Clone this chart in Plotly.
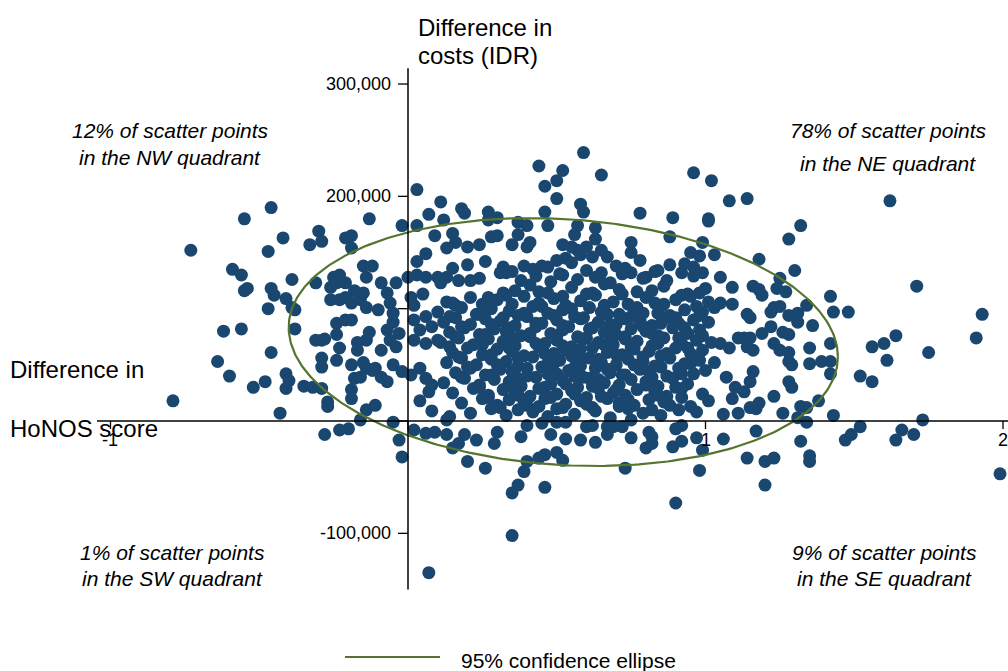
import numpy as np
import plotly.graph_objects as go

# Bootstrapped incremental results: (difference in HoNOS score, difference in costs, thousand IDR)
west_points = [
    (-0.79, 18), (-0.73, 152), (-0.62, 80), (-0.56, 82), (-0.55, 180), (-0.46, 190), (-0.59, 135),
    (-0.56, 130), (-0.54, 118), (-0.55, 116), (-0.47, 151), (-0.42, 163), (-0.46, 118), (-0.45, 112),
    (-0.41, 109), (-0.39, 126), (-0.47, 100), (-0.38, 99), (-0.38, 82), (-0.46, 61), (-0.64, 53),
    (-0.60, 40), (-0.52, 30), (-0.48, 35), (-0.43, 7), (-0.41, 42), (-0.40, 36), (-0.41, 29),
    (-0.35, 31), (-0.32, 30), (-0.29, 29), (-0.27, 17), (-0.27, 13), (-0.29, 56), (-0.29, 48),
    (-0.24, 54), (-0.19, 50), (-0.18, 38), (-0.16, 39), (-0.19, 28), (-0.19, 20), (-0.14, 47),
    (-0.11, 47), (-0.09, 39), (-0.07, 35), (-0.14, 10), (-0.11, 14), (-0.16, 1), (-0.28, -12),
    (-0.23, -8), (-0.20, -7), (-0.05, -1), (-0.03, -17), (-0.02, -32), (-0.05, 50), (-0.02, 44),
    (-0.30, 169), (-0.29, 160), (-0.33, 157), (-0.21, 163), (-0.19, 165), (-0.19, 154), (-0.13, 180),
    (-0.02, 174), (-0.15, 138), (-0.12, 138), (-0.14, 128), (-0.31, 123), (-0.25, 128), (-0.23, 130),
    (-0.24, 123), (-0.21, 123), (-0.26, 119), (-0.18, 116), (-0.15, 114), (-0.16, 108), (-0.14, 101),
    (-0.26, 108), (-0.23, 108), (-0.21, 110), (-0.19, 105), (-0.09, 123), (-0.07, 114), (-0.06, 105),
    (-0.10, 99), (-0.05, 96), (-0.04, 123), (-0.21, 90), (-0.24, 87), (-0.24, 77), (-0.31, 72),
    (-0.29, 72), (-0.17, 70), (-0.14, 72), (-0.23, 65), (-0.07, 81), (-0.05, 88), (-0.03, 78),
    (-0.06, 72), (-0.09, 63), (-0.04, 66), (-0.39, 101), (-0.28, 73), (-0.13, 79), (-0.15, 52),
    (-0.12, 45), (-0.19, 90), (-0.17, 63),
]

east_points = [
    (0.03, 206), (0.07, 184), (0.03, 174), (0.09, 165), (0.11, 195), (0.06, 149), (0.03, 142),
    (0.00, 128), (0.03, 130), (0.06, 128), (0.10, 128), (0.01, 110), (0.05, 113), (0.02, 103),
    (0.02, 90), (0.06, 93), (0.04, 81), (0.08, 84), (0.02, 72), (0.06, 69), (0.10, 72), (0.04, 47),
    (0.06, 38), (0.08, 32), (0.07, 26), (0.01, 41), (0.04, 18), (0.08, 9), (0.02, -8), (0.06, -11),
    (0.09, -10), (0.13, -12), (0.07, -135), (0.12, 179), (0.13, 1), (0.14, 4), (0.19, -12),
    (0.15, -24), (0.17, -20), (0.23, -17), (0.20, -36), (0.26, -42), (0.29, -20), (0.30, -10),
    (0.35, -64), (0.37, -57), (0.35, -102), (0.38, -14), (0.39, -45), (0.40, -36), (0.44, -33),
    (0.46, -30), (0.46, -59), (0.50, -28), (0.52, -35), (0.48, -12), (0.53, -16), (0.58, -17),
    (0.63, -19), (0.73, -42), (0.75, -15), (0.80, -24), (0.82, -20), (0.82, -14), (0.81, -10),
    (0.89, -23), (0.92, -18), (0.98, -44), (0.97, -15), (0.99, -26), (0.90, -7), (0.92, -4),
    (0.90, -73), (0.67, -5), (0.69, -5), (0.67, -12), (0.60, -5), (0.62, -4), (0.72, -5), (0.75, 1),
    (0.40, -4), (0.45, -2), (0.50, -1), (0.53, -1), (1.06, -16),
    (1.17, -9), (1.14, -33), (1.20, -36), (1.23, -33), (1.20, -57), (1.32, -18), (1.35, -31),
    (1.35, -36), (1.47, -17), (1.49, -12), (1.52, -5), (1.64, -17), (1.66, -8), (1.70, -12),
    (1.73, 1), (1.99, -47), (1.06, 6), (1.11, 7), (1.15, 12), (1.17, 11), (1.18, 16), (1.26, 7),
    (1.31, 3), (1.34, -1), (1.32, 13), (1.34, 12), (1.38, 18), (1.43, 5), (1.23, 22), (1.28, 35),
    (1.29, 30), (1.28, 53), (1.35, 51), (1.39, 53), (1.42, 53), (1.42, 42), (1.52, 40), (1.56, 35),
    (1.61, 54), (1.75, 61), (1.16, 44), (1.15, 35), (1.07, 39), (1.10, 30), (1.13, 26), (1.09, 20),
    (1.56, 66), (1.60, 69), (1.64, 76), (1.91, 74), (1.93, 95), (1.71, 120), (1.62, 196), (1.08, 196),
    (1.14, 198), (1.32, 174), (1.28, 162), (1.18, 144), (1.30, 134), (1.25, 127), (1.42, 111),
    (1.43, 97), (1.48, 97), (1.34, 103), (1.36, 85), (1.42, 69), (1.35, 65), (1.09, 119), (1.16, 120),
    (1.18, 117), (1.19, 112), (1.05, 128), (1.05, 105), (1.09, 104), (1.24, 118), (1.27, 115),
    (1.14, 95), (1.15, 92), (1.22, 97), (1.23, 101), (1.25, 102), (1.28, 94), (1.31, 96), (1.31, 88),
    (1.22, 84), (1.19, 78), (1.26, 79), (1.28, 77), (1.11, 74), (1.13, 74), (1.15, 74), (1.14, 66),
    (1.16, 63), (1.05, 69), (1.08, 65), (1.23, 69), (1.25, 63), (1.28, 61), (1.29, 50),
    (0.59, 239), (0.44, 227), (0.52, 223), (0.50, 214), (0.46, 209), (0.65, 219), (0.96, 221),
    (1.02, 214), (0.50, 198), (0.58, 193), (0.59, 186), (0.78, 185), (0.89, 181), (1.01, 180),
    (1.01, 178), (0.18, 189), (0.19, 185), (0.27, 186), (0.27, 179), (0.30, 181), (0.46, 186),
    (0.47, 174), (0.37, 177), (0.40, 174), (0.37, 166), (0.57, 174), (0.56, 166), (0.63, 172),
    (0.63, 162), (0.15, 167), (0.16, 159), (0.13, 154), (0.20, 155), (0.24, 157), (0.28, 164),
    (0.30, 165), (0.35, 157), (0.40, 155), (0.41, 159), (0.75, 159), (0.75, 150), (0.88, 164),
    (0.99, 159), (1.03, 148), (0.95, 150), (0.98, 147), (0.52, 157), (0.55, 155), (0.57, 152),
    (0.15, 136), (0.13, 128), (0.11, 123), (0.32, 137), (0.33, 132), (0.31, 132), (0.39, 138),
    (0.45, 138), (0.50, 143), (0.53, 145), (0.58, 148), (0.62, 146), (0.67, 146), (0.60, 155),
    (0.65, 152), (0.75, 132), (0.88, 139), (0.84, 134), (0.80, 128), (0.92, 132), (0.96, 137),
    (0.99, 132), (0.17, 125), (0.21, 125), (0.24, 127), (0.27, 110), (0.32, 114), (0.15, 105),
]

# Dense central cloud, listed band by band (HoNOS difference, cost difference in thousand IDR)
core_honos = [
    [0.20, 0.26, 0.47, 0.55, 0.70, 0.78, 0.93],
    [0.35, 0.42, 0.51, 0.60, 0.65, 0.73, 0.83],
    [0.38, 0.43, 0.48, 0.52, 0.57, 0.63, 0.68, 0.72, 0.79, 0.87, 0.96],
    [0.36, 0.41, 0.47, 0.55, 0.60, 0.66, 0.71, 0.77, 0.86, 0.94, 1.00],
    [0.33, 0.44, 0.52, 0.62, 0.72, 0.82, 0.92, 0.98],
    [0.13, 0.21, 0.25, 0.30, 0.39, 0.44, 0.49, 0.53, 0.58, 0.63, 0.69, 0.74, 0.80, 0.83, 0.90, 0.95, 1.01],
    [0.16, 0.26, 0.35, 0.45, 0.55, 0.66, 0.77, 0.86, 0.97],
    [0.10, 0.18, 0.23, 0.28, 0.34, 0.37, 0.42, 0.47, 0.52, 0.56, 0.61, 0.65, 0.71, 0.76, 0.79, 0.85, 0.88, 0.93, 0.99, 1.03],
    [0.14, 0.24, 0.32, 0.39, 0.49, 0.58, 0.67, 0.75, 0.84, 0.90, 0.98],
    [0.12, 0.16, 0.21, 0.26, 0.31, 0.36, 0.40, 0.45, 0.50, 0.54, 0.59, 0.64, 0.68, 0.73, 0.78, 0.82, 0.87, 0.91, 0.96, 1.01],
    [0.18, 0.28, 0.34, 0.43, 0.52, 0.61, 0.70, 0.79, 0.85, 0.93],
    [0.14, 0.19, 0.24, 0.29, 0.33, 0.38, 0.43, 0.48, 0.52, 0.57, 0.62, 0.66, 0.70, 0.75, 0.80, 0.84, 0.89, 0.94, 0.98],
    [0.16, 0.26, 0.35, 0.41, 0.50, 0.59, 0.68, 0.73, 0.82, 0.91, 0.99],
    [0.11, 0.17, 0.22, 0.27, 0.32, 0.36, 0.41, 0.46, 0.50, 0.55, 0.60, 0.64, 0.69, 0.73, 0.77, 0.82, 0.86, 0.92, 0.97, 1.02],
    [0.14, 0.25, 0.34, 0.43, 0.52, 0.58, 0.66, 0.75, 0.84, 0.94],
    [0.15, 0.20, 0.25, 0.30, 0.35, 0.39, 0.44, 0.49, 0.53, 0.58, 0.62, 0.67, 0.72, 0.76, 0.81, 0.85, 0.90, 0.95, 0.99],
    [0.17, 0.28, 0.37, 0.46, 0.55, 0.64, 0.70, 0.79, 0.87, 0.97],
    [0.13, 0.18, 0.23, 0.28, 0.33, 0.37, 0.42, 0.47, 0.51, 0.56, 0.61, 0.65, 0.70, 0.74, 0.79, 0.83, 0.88, 0.93, 0.98, 1.03],
    [0.20, 0.30, 0.40, 0.49, 0.58, 0.67, 0.76, 0.85, 0.95],
    [0.16, 0.21, 0.26, 0.31, 0.35, 0.40, 0.45, 0.50, 0.54, 0.59, 0.63, 0.68, 0.72, 0.78, 0.81, 0.87, 0.91, 0.96, 1.00],
    [0.18, 0.28, 0.37, 0.47, 0.56, 0.64, 0.73, 0.82, 0.92],
    [0.12, 0.19, 0.24, 0.29, 0.34, 0.38, 0.43, 0.48, 0.52, 0.57, 0.61, 0.66, 0.71, 0.75, 0.80, 0.84, 0.89, 0.94],
    [0.24, 0.34, 0.44, 0.53, 0.62, 0.70, 0.80, 0.90],
    [0.15, 0.22, 0.27, 0.32, 0.36, 0.41, 0.46, 0.50, 0.55, 0.60, 0.64, 0.69, 0.73, 0.77, 0.83, 0.87, 0.92, 0.99],
    [0.27, 0.37, 0.46, 0.56, 0.65, 0.74, 0.84, 0.92],
    [0.18, 0.25, 0.30, 0.34, 0.39, 0.44, 0.48, 0.53, 0.58, 0.62, 0.67, 0.71, 0.76, 0.81, 0.86, 0.95, 1.01],
    [0.31, 0.40, 0.50, 0.60, 0.71, 0.82, 0.88],
    [0.21, 0.28, 0.33, 0.37, 0.42, 0.47, 0.52, 0.56, 0.63, 0.68, 0.74, 0.79, 0.85, 0.91, 0.97],
]
core_cost = [
    [139, 142, 137, 141, 138, 143, 140],
    [133, 135, 131, 134, 132, 136, 133],
    [125, 129, 124, 130, 126, 128, 123, 131, 127, 125, 129],
    [116, 121, 114, 119, 113, 122, 117, 115, 120, 113, 118],
    [112, 115, 111, 114, 113, 116, 112, 114],
    [106, 110, 104, 108, 111, 105, 109, 103, 107, 112, 106, 104, 110, 105, 108, 111, 106],
    [103, 101, 104, 102, 100, 103, 101, 104, 102],
    [97, 101, 95, 100, 98, 94, 102, 96, 99, 93, 101, 97, 95, 100, 96, 102, 94, 99, 97, 101],
    [93, 95, 92, 96, 94, 91, 95, 93, 96, 92, 94],
    [88, 92, 86, 91, 89, 85, 93, 87, 90, 84, 92, 88, 86, 91, 89, 85, 92, 87, 90, 88],
    [84, 86, 83, 87, 85, 82, 86, 84, 87, 83],
    [79, 83, 77, 82, 80, 76, 84, 78, 81, 75, 83, 79, 77, 82, 80, 76, 83, 78, 81],
    [75, 77, 74, 78, 76, 73, 77, 75, 78, 74, 76],
    [70, 74, 68, 73, 71, 67, 75, 69, 72, 66, 74, 70, 68, 73, 71, 67, 74, 69, 72, 70],
    [66, 68, 65, 69, 67, 64, 68, 66, 69, 65],
    [61, 65, 59, 64, 62, 58, 66, 60, 63, 57, 65, 61, 59, 64, 62, 58, 65, 60, 63],
    [57, 59, 56, 60, 58, 55, 59, 57, 60, 56],
    [52, 56, 50, 55, 53, 49, 57, 51, 54, 48, 56, 52, 50, 55, 53, 49, 56, 51, 54, 52],
    [48, 50, 47, 51, 49, 46, 50, 48, 51],
    [43, 47, 41, 46, 44, 40, 48, 42, 45, 39, 47, 43, 41, 46, 44, 40, 47, 42, 45],
    [39, 41, 38, 42, 40, 37, 41, 39, 42],
    [34, 38, 32, 37, 35, 31, 39, 33, 36, 30, 38, 34, 32, 37, 35, 31, 38, 33],
    [30, 32, 29, 33, 31, 28, 32, 30],
    [25, 29, 23, 28, 26, 22, 30, 24, 27, 21, 29, 25, 23, 28, 26, 22, 29, 24],
    [21, 23, 20, 24, 22, 19, 23, 21],
    [16, 20, 14, 19, 17, 13, 21, 15, 18, 12, 20, 16, 14, 19, 17, 13, 18],
    [12, 14, 11, 15, 13, 10, 14],
    [7, 11, 5, 10, 8, 4, 12, 6, 9, 3, 11, 7, 5, 10, 8],
]

# 95% confidence ellipse: centre, horizontal semi-axis, vertical semi-axis, tilt term
ellipse_center = (0.522, 70300)
ellipse_a = 0.923
ellipse_b = 109600
ellipse_tilt = -13000

x_ticks = [-1, 0, 1, 2]
x_tick_labels = ["-1", "", "1", "2"]
y_ticks = [-100000, 0, 100000, 200000, 300000]
y_tick_labels = ["-100,000", "", "", "200,000", "300,000"]

quadrant_text = {
    "NW": ("12% of scatter points", "in the NW quadrant"),
    "NE": ("78% of scatter points", "in the NE quadrant"),
    "SW": ("1% of scatter points", "in the SW quadrant"),
    "SE": ("9% of scatter points", "in the SE quadrant"),
}

# ---------------------------------------------------------------------------
honos = [p[0] for p in west_points + east_points]
cost = [p[1] * 1000 for p in west_points + east_points]
for hx, cy in zip(core_honos, core_cost, strict=True):
    for a, b in zip(hx, cy, strict=True):
        honos.append(a)
        cost.append(b * 1000)

W, H = 1008, 671
NAVY = "#1a476f"
GREEN = "#55752f"
FONT = "Liberation Sans, Arial, sans-serif"

# Axis ranges chosen so that the origin sits left of centre, as in a CE plane
x_range = [-1.3714, 2.0168]
y_range = [-222550, 374800]
dx = (x_range[1] - x_range[0]) / W   # data units per pixel
dy = (y_range[1] - y_range[0]) / H


def px(xp):
    return xp / W


def py(yp):
    return 1 - yp / H


t = np.linspace(0, 2 * np.pi, 400)
ell_x = ellipse_center[0] + ellipse_a * np.cos(t)
ell_y = ellipse_center[1] + ellipse_b * np.sin(t) + ellipse_tilt * np.cos(t)

fig = go.Figure()
fig.add_trace(go.Scatter(
    x=honos, y=cost, mode="markers",
    marker=dict(color=NAVY, size=13, line=dict(width=0)),
    hoverinfo="skip", showlegend=False,
))
fig.add_trace(go.Scatter(
    x=ell_x, y=ell_y, mode="lines",
    line=dict(color=GREEN, width=2.2),
    hoverinfo="skip", showlegend=False,
))

shapes = []
# axes crossing at the origin
shapes.append(dict(type="line", xref="x", yref="y", x0=x_range[0] + 97 * dx, x1=x_range[1],
                   y0=0, y1=0, line=dict(color="black", width=1.5), layer="above"))
shapes.append(dict(type="line", xref="x", yref="y", x0=0, x1=0,
                   y0=-150000, y1=314000, line=dict(color="black", width=1.5), layer="above"))
for xv in x_ticks:
    shapes.append(dict(type="line", xref="x", yref="y", x0=xv, x1=xv, y0=0, y1=-8 * dy,
                       line=dict(color="black", width=1.3), layer="above"))
for yv in y_ticks:
    shapes.append(dict(type="line", xref="x", yref="y", x0=-10 * dx, x1=0, y0=yv, y1=yv,
                       line=dict(color="black", width=1.3), layer="above"))
# legend key
shapes.append(dict(type="line", xref="paper", yref="paper", x0=px(345), x1=px(440),
                   y0=py(657), y1=py(657), line=dict(color=GREEN, width=2.2)))

ann = []
for xv, lab in zip(x_ticks, x_tick_labels):
    if lab:
        ann.append(dict(x=xv, y=0, xref="x", yref="y", yshift=-19, text=lab, showarrow=False,
                        xanchor="center", yanchor="middle", font=dict(size=18, color="black")))
for yv, lab in zip(y_ticks, y_tick_labels):
    if lab:
        ann.append(dict(x=0, y=yv, xref="x", yref="y", xshift=-15, text=lab, showarrow=False,
                        xanchor="right", yanchor="middle", font=dict(size=18, color="black")))


def text(x, y, s, size, anchor="left"):
    ann.append(dict(x=px(x), y=py(y), xref="paper", yref="paper", text=s, showarrow=False,
                    xanchor=anchor, yanchor="middle", font=dict(size=size, color="black")))


text(416, 27, "Difference in", 24)
text(416, 56, "costs (IDR)", 24)
text(8, 369, "Difference in", 24)
text(8, 428, "HoNOS score", 24)

quad_pos = {"NW": (170, 130, 157), "NE": (888, 130, 164), "SW": (172, 552, 578), "SE": (884, 552, 578)}
for key, (l1, l2) in quadrant_text.items():
    cx, y1, y2 = quad_pos[key]
    text(cx, y1, f"<i>{l1}</i>", 21, "center")
    text(cx, y2, f"<i>{l2}</i>", 21, "center")

text(459, 660, "95% confidence ellipse", 21)

fig.update_layout(
    width=W, height=H,
    margin=dict(l=0, r=0, t=0, b=0),
    paper_bgcolor="white", plot_bgcolor="white",
    font=dict(family=FONT, color="black"),
    xaxis=dict(range=x_range, visible=False, fixedrange=True),
    yaxis=dict(range=y_range, visible=False, fixedrange=True),
    shapes=shapes, annotations=ann,
)

fig.write_html("out.html")
